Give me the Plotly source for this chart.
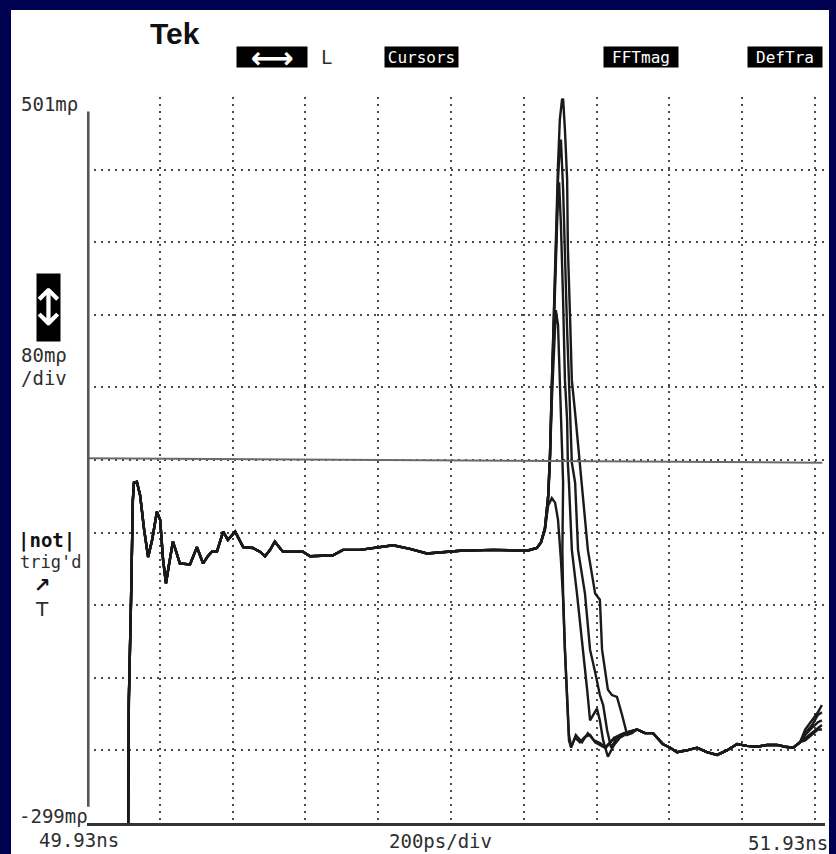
import plotly.graph_objects as go

# ---- data (time in ns, reflection in mρ) ----
# shared leading part of all sweeps (step edge, ringing, flat level)
t_lead = [50.043, 50.045, 50.051, 50.056, 50.059, 50.067, 50.076, 50.087, 50.098, 50.109,
          50.122, 50.131, 50.139, 50.147, 50.155, 50.166, 50.175, 50.185, 50.213, 50.232,
          50.249, 50.262, 50.273, 50.287, 50.304, 50.317, 50.337, 50.359, 50.386, 50.405,
          50.419, 50.433, 50.446, 50.468, 50.523, 50.543, 50.606, 50.633, 50.680, 50.735,
          50.771, 50.817, 50.864, 50.955, 51.045, 51.139, 51.166]
v_lead = [-312, -163, -53, 57, 76, 77, 62, 24, -6, 13,
          44, 35, -9, -35, -15, 11, 0, -13, -14, 5,
          -13, -5, 0, 0, 22, 13, 22, 5, 4, 0,
          -5, 2, 11, 0, 0, -5, -4, 2, 2, 5,
          7, 3, -2, 1, 2, 1, 4]

# peak region of each of the five overlaid sweeps
t_pk1 = [51.177, 51.188, 51.197, 51.207, 51.216, 51.224, 51.232, 51.238, 51.243, 51.249,
         51.254, 51.260, 51.271, 51.284, 51.298, 51.312, 51.326, 51.339, 51.353, 51.372,
         51.394, 51.416, 51.441]
v_pk1 = [10, 24, 51, 59, 54, 35, -9, -53, -108, -163,
         -202, -215, -205, -210, -204, -202, -210, -213, -216, -208,
         -202, -199, -196]

t_pk2 = [51.177, 51.188, 51.197, 51.202, 51.207, 51.213, 51.218, 51.224, 51.229, 51.235,
         51.238, 51.236, 51.238, 51.243, 51.249, 51.254, 51.260, 51.273, 51.290, 51.306,
         51.323, 51.339, 51.356, 51.378, 51.400, 51.422, 51.441]
v_pk2 = [10, 24, 57, 101, 167, 233, 266, 250, 189, 134,
         76, 2, -46, -108, -163, -208, -216, -202, -210, -200,
         -208, -211, -216, -205, -201, -198, -196]

t_pk3 = [51.177, 51.188, 51.197, 51.202, 51.207, 51.213, 51.218, 51.224, 51.227, 51.232,
         51.238, 51.243, 51.249, 51.251, 51.254, 51.262, 51.276, 51.293, 51.304, 51.312,
         51.323, 51.331, 51.339, 51.348, 51.361, 51.378, 51.394, 51.416, 51.441]
v_pk3 = [10, 26, 62, 107, 178, 255, 332, 393, 407, 360,
         277, 189, 145, 98, 76, 2, -46, -108, -152, -186,
         -178, -173, -186, -208, -226, -213, -205, -200, -196]

t_pk4 = [51.177, 51.188, 51.197, 51.202, 51.207, 51.213, 51.218, 51.224, 51.229, 51.232,
         51.238, 51.243, 51.249, 51.254, 51.257, 51.262, 51.271, 51.279, 51.298, 51.312,
         51.326, 51.339, 51.348, 51.359, 51.370, 51.386, 51.405, 51.425, 51.441]
v_pk4 = [10, 26, 62, 107, 184, 266, 343, 410, 448, 454,
         399, 321, 244, 189, 153, 98, 76, 2, -46, -108,
         -133, -158, -169, -197, -216, -205, -200, -198, -196]

t_pk5 = [51.177, 51.188, 51.197, 51.202, 51.207, 51.213, 51.218, 51.224, 51.229, 51.235,
         51.238, 51.243, 51.249, 51.251, 51.257, 51.262, 51.271, 51.284, 51.290, 51.306,
         51.326, 51.339, 51.345, 51.353, 51.361, 51.372, 51.386, 51.400, 51.414, 51.427,
         51.441]
v_pk5 = [10, 26, 62, 107, 184, 277, 360, 426, 476, 498,
         499, 465, 410, 336, 259, 189, 153, 98, 76, 2,
         -46, -53, -108, -133, -152, -158, -160, -180, -202, -200,
         -196]

# shared settled tail
t_tail = [51.463, 51.485, 51.512, 51.532, 51.551, 51.578, 51.606, 51.633, 51.661, 51.688,
          51.716, 51.743, 51.771, 51.798, 51.826, 51.848, 51.870, 51.889]
v_tail = [-200, -200, -212, -216, -221, -219, -216, -221, -224, -219,
          -212, -214, -215, -213, -213, -215, -216, -210]

# end of each sweep
t_end = [51.903, 51.922, 51.938, 51.949]
v_end1 = [-205, -200, -194, -191]
v_end2 = [-208, -202, -196, -196]
v_end3 = [-202, -194, -188, -186]
v_end4 = [-200, -191, -180, -177]
v_end5 = [-196, -186, -177, -169]

# cursor / marker lines drawn on the screen
cursor_t = [49.93, 51.95]
cursor_v = [103, 98]
marker_t = [49.933, 49.933]
marker_v = [485, -281]

# screen scale
x_start, x_stop, x_per_div = 49.93, 51.93, 0.2
y_bottom, y_top, y_per_div = -299, 501, 80

# ---- figure ----
W, H = 836, 854
L, R, T, B = 87, 11, 97, 31
PW, PH = W - L - R, H - T - B


def xp(px):
    return (px - L) / PW


def yp(py):
    return (H - B - py) / PH


fig = go.Figure()

pk_t = [t_pk1, t_pk2, t_pk3, t_pk4, t_pk5]
pk_v = [v_pk1, v_pk2, v_pk3, v_pk4, v_pk5]
ends = [v_end1, v_end2, v_end3, v_end4, v_end5]
for tp, vp, ve in zip(pk_t, pk_v, ends):
    fig.add_trace(go.Scatter(
        x=t_lead + tp + t_tail + t_end,
        y=v_lead + vp + v_tail + ve,
        mode="lines", line=dict(color="#1a1a1a", width=2.4),
        hoverinfo="skip", showlegend=False))

fig.add_trace(go.Scatter(x=cursor_t, y=cursor_v, mode="lines",
                         line=dict(color="#6a6a6a", width=2),
                         hoverinfo="skip", showlegend=False))
fig.add_trace(go.Scatter(x=marker_t, y=marker_v, mode="lines",
                         line=dict(color="#555555", width=3),
                         hoverinfo="skip", showlegend=False))

x_range_right = x_start + (x_stop - x_start) * PW / 728.0

fig.update_layout(
    width=W, height=H, autosize=False,
    margin=dict(l=L, r=R, t=T, b=B, pad=0),
    paper_bgcolor="#000050",
    plot_bgcolor="rgba(0,0,0,0)",
    showlegend=False,
    xaxis=dict(range=[x_start, x_range_right], tick0=x_start, dtick=x_per_div,
               showgrid=True, gridcolor="#4a4a4a", gridwidth=1.6, griddash="2px,5px",
               zeroline=False, showticklabels=False, ticks="",
               showline=True, linecolor="#333333", linewidth=3),
    yaxis=dict(range=[y_bottom, y_top], tick0=y_bottom, dtick=y_per_div,
               showgrid=True, gridcolor="#4a4a4a", gridwidth=1.6, griddash="2px,5px",
               zeroline=False, showticklabels=False, ticks="", showline=False),
)

# white screen area
fig.add_shape(type="rect", xref="paper", yref="paper", layer="below",
              x0=xp(11), x1=xp(829), y0=yp(854), y1=yp(10),
              fillcolor="white", line=dict(width=0))

mono = "DejaVu Sans Mono"
txt = "#2e2e2e"


def label(text, px, py, size=19, xanchor="center", color=txt, family=mono, **kw):
    fig.add_annotation(text=text, x=xp(px), y=yp(py), xref="paper", yref="paper",
                       showarrow=False, xanchor=xanchor, yanchor="middle",
                       font=dict(family=family, size=size, color=color), **kw)


def box(text, px0, px1, py, size=15, h=20, family=mono):
    fig.add_annotation(text=text, x=xp((px0 + px1) / 2), y=yp(py), xref="paper", yref="paper",
                       showarrow=False, xanchor="center", yanchor="middle",
                       width=px1 - px0, height=h, bgcolor="black", borderpad=0,
                       font=dict(family=family, size=size, color="white"))


label("<b>Tek</b>", 175, 34, size=30, family="Liberation Sans", color="#111111")
box("<b>⟷</b>", 237, 307, 57, size=30, family="DejaVu Sans")
label("L", 326, 57, size=19)
box("Cursors", 385, 458, 57, size=16)
box("FFTmag", 604, 678, 57, size=16)
box("DefTra", 748, 822, 57, size=16)

label("501mρ", 19, 104, size=19, xanchor="left")
fig.add_annotation(text="↕", x=xp(48.5), y=yp(307), xref="paper", yref="paper",
                   showarrow=False, xanchor="center", yanchor="middle",
                   width=23, height=67, bgcolor="black", borderpad=0,
                   font=dict(family="DejaVu Sans", size=50, color="white"))
label("80mρ", 19, 355, size=19, xanchor="left")
label("/div", 19, 378, size=19, xanchor="left")
label("<b>|not|</b>", 16, 540, size=19, xanchor="left", color="#111111")
label("trig'd", 18, 562, size=17, xanchor="left")
label("<b>↗</b>", 42, 585, size=20, color="#111111", family="DejaVu Sans")
label("T", 42, 609, size=20, family="DejaVu Sans")
label("-299mρ", 17, 816, size=19, xanchor="left")
label("49.93ns", 79, 840, size=19)
label("200ps/div", 440, 841, size=19)
label("51.93ns", 788, 843, size=19)

fig.write_html("out.html")
